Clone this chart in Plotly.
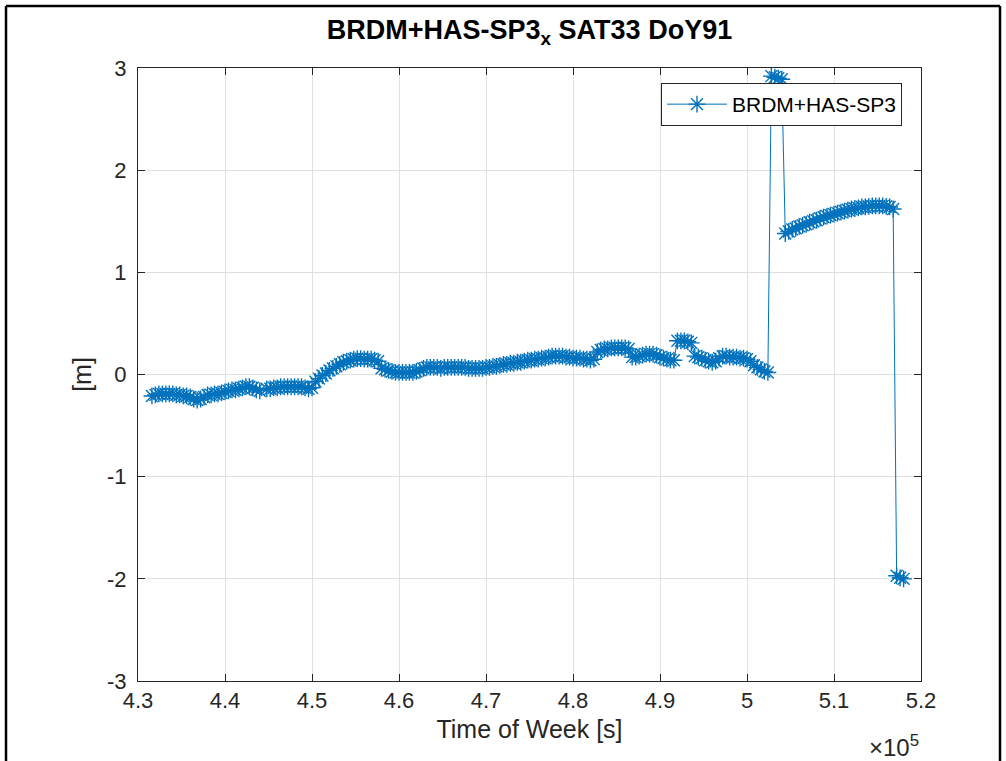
import plotly.graph_objects as go

# Time of week epochs [s] (regular 400 s sampling, data gap around 444400 s)
TOW_SEG1 = list(range(431600, 444001, 400))
TOW_SEG2 = list(range(444800, 518001, 400))

DX_SEG1 = [
    -0.21, -0.20, -0.19, -0.19, -0.19, -0.19, -0.19, -0.20, -0.20, -0.21,
    -0.21, -0.22, -0.24, -0.25, -0.24, -0.22, -0.20, -0.20, -0.19, -0.19,
    -0.18, -0.17, -0.16, -0.15, -0.15, -0.14, -0.13, -0.12, -0.12, -0.13,
    -0.15, -0.16,
]
DX_SEG2 = [
    -0.14, -0.14, -0.13, -0.13, -0.12, -0.12, -0.12, -0.12, -0.12, -0.12,
    -0.12, -0.13, -0.14, -0.13, -0.07, -0.04, -0.01, 0.01, 0.04, 0.06,
    0.08, 0.10, 0.12, 0.13, 0.14, 0.15, 0.155, 0.155, 0.15, 0.15,
    0.15, 0.14, 0.13, 0.06, 0.05, 0.04, 0.03, 0.02, 0.02, 0.02,
    0.02, 0.02, 0.02, 0.03, 0.04, 0.06, 0.07, 0.07, 0.07, 0.07,
    0.06, 0.07, 0.07, 0.07, 0.07, 0.07, 0.07, 0.07, 0.06, 0.06,
    0.06, 0.06, 0.06, 0.07, 0.07, 0.08, 0.08, 0.09, 0.10, 0.10,
    0.11, 0.11, 0.12, 0.12, 0.13, 0.14, 0.14, 0.15, 0.15, 0.16,
    0.16, 0.17, 0.18, 0.18, 0.18, 0.18, 0.17, 0.17, 0.16, 0.16,
    0.16, 0.15, 0.15, 0.14, 0.15, 0.22, 0.24, 0.25, 0.25, 0.26,
    0.26, 0.26, 0.26, 0.26, 0.25, 0.17, 0.17, 0.18, 0.19, 0.20,
    0.20, 0.20, 0.19, 0.17, 0.16, 0.15, 0.14, 0.14, 0.33, 0.33,
    0.33, 0.32, 0.31, 0.18, 0.17, 0.16, 0.14, 0.13, 0.12, 0.13,
    0.16, 0.18, 0.18, 0.17, 0.17, 0.17, 0.16, 0.16, 0.15, 0.13,
    0.09, 0.07, 0.05, 0.03, 0.02, 2.92, 2.91, 2.90, 2.89, 1.38,
    1.40, 1.42, 1.43, 1.45, 1.46, 1.47, 1.49, 1.50, 1.51, 1.53,
    1.54, 1.55, 1.56, 1.57, 1.58, 1.59, 1.60, 1.61, 1.62, 1.625,
    1.63, 1.64, 1.64, 1.645, 1.65, 1.65, 1.65, 1.65, 1.645, 1.64,
    1.62, -1.97, -1.99, -2.00,
]

TOW = TOW_SEG1 + TOW_SEG2[:len(DX_SEG2)]
DX = DX_SEG1 + DX_SEG2

X_TICKS = [430000, 440000, 450000, 460000, 470000, 480000, 490000, 500000, 510000, 520000]
X_TICK_LABELS = ["4.3", "4.4", "4.5", "4.6", "4.7", "4.8", "4.9", "5", "5.1", "5.2"]
Y_TICKS = [-3, -2, -1, 0, 1, 2, 3]
Y_TICK_LABELS = ["-3", "-2", "-1", "0", "1", "2", "3"]

BLUE = "#0072BD"
AX = "#262626"
GRID = "#e0e0e0"
FONT = "Liberation Sans, Arial, sans-serif"

fig = go.Figure()
fig.add_trace(go.Scatter(
    x=TOW, y=DX, mode="lines+markers", name="BRDM+HAS-SP3",
    line=dict(color=BLUE, width=1),
    marker=dict(symbol="asterisk-open", size=14, color=BLUE,
                line=dict(color=BLUE, width=1.4)),
))

axis_common = dict(
    showline=True, linecolor=AX, linewidth=1, mirror="allticks",
    ticks="inside", ticklen=7, tickcolor=AX, tickwidth=1,
    showgrid=True, gridcolor=GRID, gridwidth=1, zeroline=False,
    tickfont=dict(family=FONT, size=22, color=AX),
)

fig.update_layout(
    width=1006, height=761,
    margin=dict(l=138, r=85, t=68, b=80),
    paper_bgcolor="white", plot_bgcolor="white",
    font=dict(family=FONT, color=AX),
    title=dict(text="<b>BRDM+HAS-SP3<sub>x</sub> SAT33 DoY91</b>",
               x=0.5, xref="paper", xanchor="center",
               y=1 - 30 / 761, yref="container", yanchor="middle",
               font=dict(family=FONT, size=27, color="black")),
    xaxis=dict(range=[430000, 520000], tickvals=X_TICKS, ticktext=X_TICK_LABELS,
               title=dict(text="Time of Week [s]", font=dict(family=FONT, size=25, color=AX),
                          standoff=8),
               **axis_common),
    yaxis=dict(range=[-3, 3], tickvals=Y_TICKS, ticktext=Y_TICK_LABELS,
               title=dict(text="[m]", font=dict(family=FONT, size=25, color=AX),
                          standoff=8),
               ticklabelstandoff=6,
               **axis_common),
    showlegend=True,
    legend=dict(x=(902 - 138) / 783, y=(681 - 83) / 613, xanchor="right", yanchor="top",
                bgcolor="white", bordercolor=AX, borderwidth=1,
                font=dict(family=FONT, size=21, color="black"),
                itemwidth=60, tracegroupgap=0),
)

fig.add_annotation(
    text="×10<sup>5</sup>", xref="paper", yref="paper",
    x=1.0, y=(681 - 746) / 613, xanchor="right", yanchor="middle",
    showarrow=False, font=dict(family=FONT, size=24, color=AX),
)

# outer black frame of the figure
def px_x(p):
    return (p - 138) / 783

def px_y(p):
    return (681 - p) / 613

for x0, y0, x1, y1 in [(6, 6, 1000, 6), (6, 6, 6, 780), (1000, 6, 1000, 780)]:
    fig.add_shape(type="line", xref="paper", yref="paper",
                  x0=px_x(x0), y0=px_y(y0), x1=px_x(x1), y1=px_y(y1),
                  line=dict(color="black", width=2.5))

fig.write_html("out.html")
